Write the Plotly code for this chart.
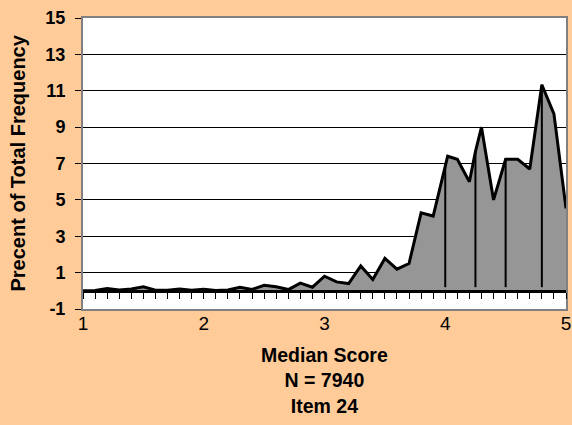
import plotly.graph_objects as go

# Median score (x) and percent of total frequency (y)
median_score = [1.0, 1.1, 1.2, 1.3, 1.4, 1.5, 1.6, 1.7, 1.8, 1.9,
                2.0, 2.1, 2.2, 2.3, 2.4, 2.5, 2.6, 2.7, 2.8, 2.9,
                3.0, 3.1, 3.2, 3.3, 3.4, 3.5, 3.6, 3.7, 3.8, 3.9,
                4.02, 4.1, 4.2, 4.25, 4.3, 4.4, 4.5, 4.6, 4.7, 4.8, 4.9, 5.0]
percent_freq = [0.0, 0.02, 0.12, 0.05, 0.1, 0.22, 0.03, 0.03, 0.1, 0.03,
                0.08, 0.02, 0.05, 0.2, 0.08, 0.3, 0.22, 0.07, 0.42, 0.2,
                0.8, 0.49, 0.4, 1.37, 0.62, 1.78, 1.19, 1.5, 4.29, 4.11,
                7.4, 7.23, 6.0, 7.65, 9.0, 5.0, 7.23, 7.23, 6.7, 11.33, 9.73, 4.53]

# Vertical drop lines
drop_x = [4.0, 4.25, 4.5, 4.8]
drop_top = [6.85, 7.65, 7.23, 11.33]
drop_bottom = 0.2

y_ticks = [-1, 1, 3, 5, 7, 9, 11, 13, 15]
x_ticks = [1, 2, 3, 4, 5]

FONT = "Liberation Sans, Arial, sans-serif"
BG = "#FFCC99"

fig = go.Figure()
fig.add_trace(go.Scatter(
    x=median_score, y=percent_freq, mode="lines",
    line=dict(color="black", width=3),
    fill="tozeroy", fillcolor="#969696",
    hoverinfo="skip", showlegend=False))

dx, dy = [], []
for xv, top in zip(drop_x, drop_top):
    dx += [xv, xv, None]
    dy += [drop_bottom, top, None]
fig.add_trace(go.Scatter(
    x=dx, y=dy, mode="lines", xaxis="x2",
    line=dict(color="black", width=2),
    hoverinfo="skip", showlegend=False))

fig.update_layout(
    width=572, height=425,
    margin=dict(l=83, r=6, t=18, b=116),
    paper_bgcolor=BG, plot_bgcolor="white",
    xaxis=dict(
        range=[1, 5], tickvals=x_ticks, ticktext=[str(v) for v in x_ticks],
        ticks="", showgrid=False, zeroline=False, automargin=False,
        ticklabelstandoff=-4,
        showline=True, linecolor="#808080", linewidth=2, mirror=True,
        tickfont=dict(family=FONT, size=19, color="black"),
    ),
    xaxis2=dict(
        overlaying="x", anchor="free", position=1/16, range=[1, 5],
        tick0=1, dtick=0.1, ticks="outside", ticklen=6, tickwidth=1, tickcolor="black",
        showticklabels=False, showgrid=False, zeroline=False, automargin=False,
        showline=True, linecolor="black", linewidth=3,
    ),
    yaxis=dict(
        range=[-1, 15], tickvals=y_ticks, ticktext=[str(v) for v in y_ticks],
        ticks="outside", ticklen=6, tickcolor="black", ticklabelstandoff=6,
        showgrid=True, gridcolor="black", gridwidth=1, zeroline=False, automargin=False,
        showline=True, linecolor="#808080", linewidth=2, mirror=True,
        tickfont=dict(family=FONT, size=18, color="black", weight="bold"),
    ),
    annotations=[
        dict(text="Precent of Total Frequency", textangle=-90,
             xref="paper", yref="paper", x=(17 - 83) / 483, y=0.5,
             xanchor="center", yanchor="middle", showarrow=False,
             font=dict(family=FONT, size=20, color="black", weight="bold")),
        dict(text="Median Score<br>N = 7940<br>Item 24",
             xref="paper", yref="paper", x=0.5, y=-(342 - 309) / 291,
             xanchor="center", yanchor="top", showarrow=False,
             font=dict(family=FONT, size=19.5, color="black", weight="bold")),
    ],
)

fig.write_html(
    "out.html",
    config={"displayModeBar": False, "staticPlot": True},
    post_script=("document.body.style.margin='0';"
                 "document.body.style.background='" + BG + "';"
                 "document.body.style.overflow='hidden';"),
)
